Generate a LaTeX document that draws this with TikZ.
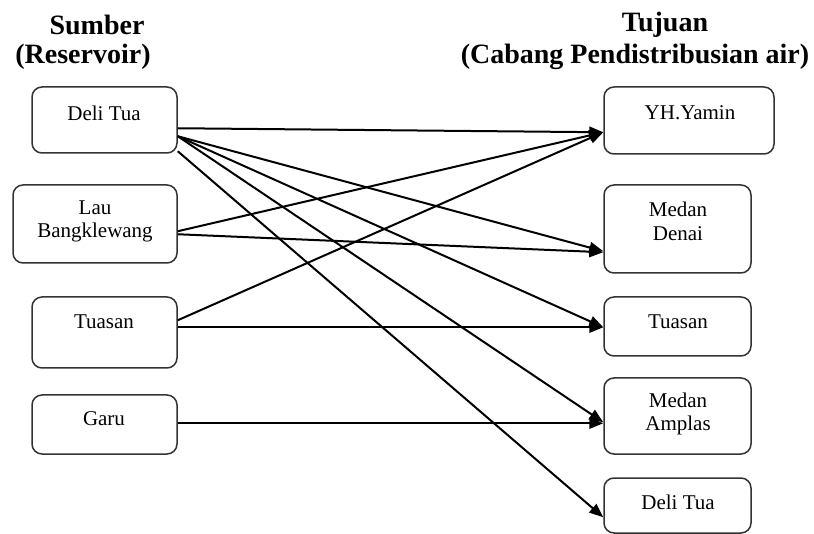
\documentclass[tikz,border=0pt]{standalone}
\usepackage{fontspec}
\setmainfont{Liberation Serif}
\usetikzlibrary{arrows.meta}
\tikzset{
  box/.style={draw=black!80, line width=1.5pt, rounded corners=10pt, inner sep=0pt},
  boxtext/.style={inner sep=0pt, align=center, font=\fontsize{21}{23.5}\selectfont},
  titletext/.style={inner sep=0pt, font=\fontsize{28}{30}\selectfont\bfseries},
  flow/.style={line width=2pt, -{Triangle[length=14pt,width=11pt]}}
}
\begin{document}
\begin{tikzpicture}[x=1pt,y=-1pt]
\useasboundingbox (0,0) rectangle (814,534);
% titles
\node[titletext] (t1) at (97,25) {Sumber};
\node[titletext] (t2) at (83,57) {(Reservoir)};
\node[titletext] (t3) at (665,25) {Tujuan};
\node[titletext] (t4) at (635,57) {(Cabang Pendistribusian air)};
% source boxes
\node[box, minimum width=145pt, minimum height=66pt] (sDT) at (104.5,120) {};
\node[box, minimum width=164pt, minimum height=78pt] (sLB) at (95,224) {};
\node[box, minimum width=145pt, minimum height=71pt] (sTu) at (104.5,332.5) {};
\node[box, minimum width=145pt, minimum height=59pt] (sGa) at (104.5,424.5) {};
% target boxes
\node[box, minimum width=170pt, minimum height=67pt] (tYH) at (689,120.5) {};
\node[box, minimum width=147pt, minimum height=88pt] (tMD) at (677.5,229) {};
\node[box, minimum width=147pt, minimum height=59pt] (tTu) at (677.5,326.5) {};
\node[box, minimum width=147pt, minimum height=76pt] (tMA) at (677.5,416) {};
\node[box, minimum width=147pt, minimum height=55pt] (tDT) at (677.5,505.5) {};
% texts
\node[boxtext] (xsDT) at (104,113) {Deli Tua};
\node[boxtext] (xsLB) at (95,221.5) {Lau\\Bangklewang};
\node[boxtext] (xsTu) at (104,322) {Tuasan};
\node[boxtext] (xsGa) at (104,419) {Garu};
\node[boxtext] (xtYH) at (690,113) {YH.Yamin};
\node[boxtext] (xtMD) at (678,221.5) {Medan\\Denai};
\node[boxtext] (xtTu) at (678,322) {Tuasan};
\node[boxtext] (xtMA) at (678,414) {Medan\\Amplas};
\node[boxtext] (xtDT) at (678,502) {Deli Tua};
% connectors
\draw[flow] ([yshift=-42pt]sDT.north east) -- ([yshift=-46pt]tYH.north west);
\draw[flow] ([yshift=-50pt]sDT.north east) -- ([yshift=-67pt]tMD.north west);
\draw[flow] ([yshift=-50pt]sDT.north east) -- ([yshift=-31pt]tTu.north west);
\draw[flow] ([yshift=-50pt]sDT.north east) -- ([yshift=-45pt]tMA.north west);
\draw[flow] ([yshift=-65pt]sDT.north east) -- ([yshift=-40pt]tDT.north west);
\draw[flow] ([yshift=-47pt]sLB.north east) -- ([yshift=-46pt]tYH.north west);
\draw[flow] ([yshift=-50pt]sLB.north east) -- ([yshift=-68pt]tMD.north west);
\draw[flow] ([yshift=-24pt]sTu.north east) -- ([yshift=-46pt]tYH.north west);
\draw[flow] ([yshift=-31pt]sTu.north east) -- ([yshift=-31pt]tTu.north west);
\draw[flow] ([yshift=-29pt]sGa.north east) -- ([yshift=-46pt]tMA.north west);
\end{tikzpicture}
\end{document}
